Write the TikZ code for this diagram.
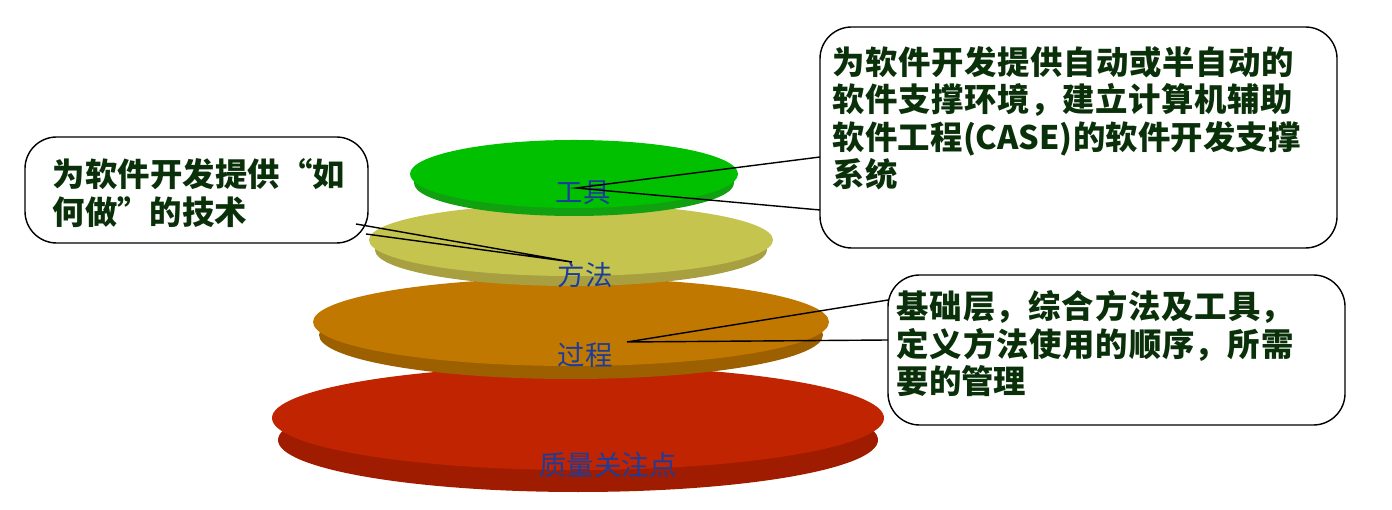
\documentclass[tikz,border=0pt]{standalone}
\usepackage{fontspec}
\newfontfamily\cjk{Noto Sans CJK SC}
\XeTeXlinebreaklocale "zh"
\XeTeXlinebreakskip = 0pt plus 1pt
\usetikzlibrary{positioning}
\definecolor{tooltop}{HTML}{00C000}
\definecolor{toolrim}{HTML}{10A010}
\definecolor{methtop}{HTML}{C4C44E}
\definecolor{methrim}{HTML}{A8A040}
\definecolor{proctop}{HTML}{C07800}
\definecolor{procrim}{HTML}{9C6000}
\definecolor{qualtop}{HTML}{C02400}
\definecolor{qualrim}{HTML}{A01C00}
\definecolor{labblue}{HTML}{1C3C9C}
\definecolor{notegreen}{HTML}{0A300A}
\tikzset{
  layer/.style={font=\cjk\fontsize{7.8}{9}\selectfont, text=labblue},
  note/.style={align=left, anchor=north west, text=notegreen,
    font=\cjk\bfseries\fontsize{9.2}{10.6}\selectfont, inner sep=0pt},
  notebox/.style={draw, rounded corners=9pt, thin, fill=white},
  pointer/.style={thin}
}
\begin{document}
\begin{tikzpicture}[x=0.01cm,y=-0.01cm]
\useasboundingbox (0,0) rectangle (1392,510);
		% discs, bottom up
		\fill[qualrim] (578,440) ellipse (300 and 52);
		\fill[qualtop] (578,418) ellipse (306 and 52);
		\fill[procrim] (571,335) ellipse (252 and 44);
		\fill[proctop] (571,322) ellipse (258 and 44);
		\fill[methrim] (571,250) ellipse (196 and 36);
		\fill[methtop] (571,240) ellipse (202 and 36);
		\fill[toolrim] (574,183) ellipse (160 and 33);
		\fill[tooltop] (574,174) ellipse (164 and 34);

		\node[layer] (tool) at (583,193) {工具};
		\node[layer] (meth) at (585,275) {方法};
		\node[layer] (proc) at (585,355) {过程};
		\node[layer] (qual) at (608,465) {质量关注点};

		% callouts
		\draw[notebox] (25,137) rectangle (368,243);
		\node[note, text width=2.95cm] (howtxt) at (52,158) {为软件开发提供“如何做”的技术};
		\draw[notebox] (820,27) rectangle (1337,248);
		\node[note, text width=4.72cm] (casetxt) at (832,46) {为软件开发提供自动或半自动的软件支撑环境，建立计算机辅助软件工程(CASE)的软件开发支撑系统};
		\draw[notebox] (888,275) rectangle (1345,425);
		\node[note, text width=4.12cm] (basetxt) at (896,290) {基础层，综合方法及工具，定义方法使用的顺序，所需要的管理};

		\coordinate (hA) at (356,224);
		\coordinate (hB) at (366,234);
		\coordinate (hP) at (572,262);
		\coordinate (cA) at (820,157);
		\coordinate (cB) at (820,210);
		\coordinate (cP) at (576,188);
		\coordinate (bA) at (888,300);
		\coordinate (bB) at (888,340);
		\coordinate (bP) at (627,342);
		\draw[pointer] (hA) -- (hP) -- (hB);
		\draw[pointer] (cA) -- (cP) -- (cB);
		\draw[pointer] (bA) -- (bP) -- (bB);
\end{tikzpicture}
\end{document}
